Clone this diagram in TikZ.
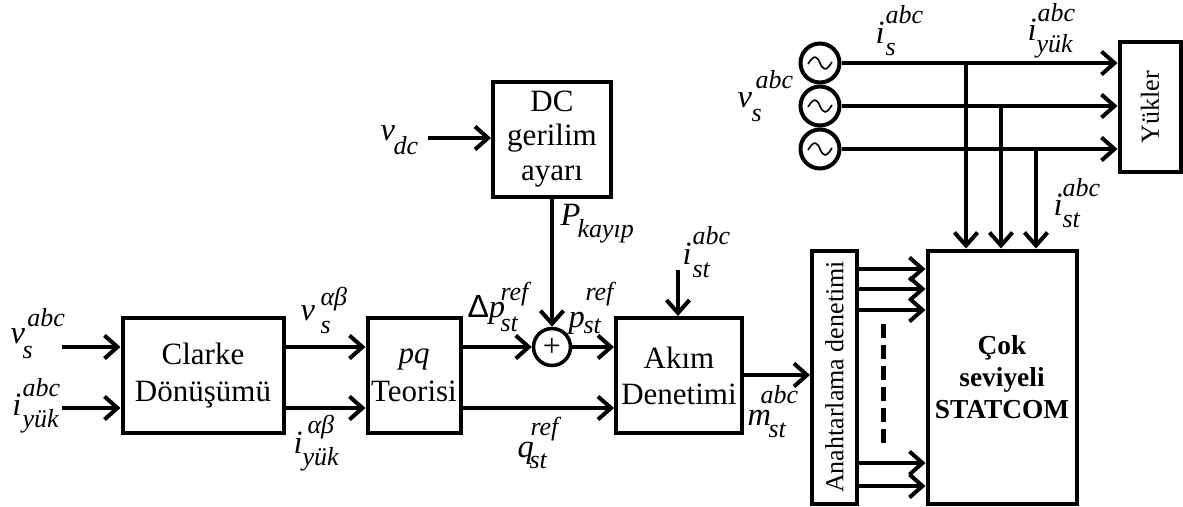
\documentclass[tikz,border=0pt]{standalone}
\usepackage{fontspec}
\setmainfont{Liberation Serif}
\newfontfamily\deltafont{Liberation Sans}
\usetikzlibrary{arrows.meta}
\newcommand\bfnt{\fontsize{31}{36}\selectfont}
\newcommand\lfnt{\fontsize{32.5}{36}\selectfont}
\newcommand\sfnt{\fontsize{26}{28}\selectfont}
% base, sup, sup dx, sup raise, sub, sub dx, sub drop
\newcommand\stk[7]{\mbox{\rlap{\lfnt\itshape #1}\rlap{\hspace{#3pt}\raisebox{#4pt}{\sfnt\itshape #2}}\rlap{\hspace{#6pt}\raisebox{-#7pt}{\sfnt\itshape #5}}}}
\tikzset{
  x=1pt,y=-1pt,
  block/.style={draw=black,line width=4pt,fill=white,align=center,inner sep=0pt,font=\bfnt},
  srcnode/.style={draw=black,line width=4pt,circle,minimum size=39pt,inner sep=0pt,fill=white},
  sumnode/.style={draw=black,line width=3.5pt,circle,minimum size=37pt,inner sep=0pt,fill=white},
  mlabel/.style={anchor=base west,inner sep=0pt,outer sep=0pt},
  conn/.style={line width=4pt,-{Straight Barb[length=13pt,width=23pt,line width=4pt]}},
}
\newcommand\wave{\tikz[x=1pt,y=1pt,baseline=-3pt]\draw[line width=1.6pt] (-12,-1) .. controls (-6,9) and (-3,7) .. (0,0) .. controls (3,-7) and (6,-9) .. (12,1);}
\begin{document}
\begin{tikzpicture}
\useasboundingbox (0,0) rectangle (1183,506);
% blocks
\node[block,minimum width=161pt,minimum height=115pt] (clarke) at (203,375.5) {Clarke\\[1pt]Dönüşümü};
\node[block,minimum width=93pt,minimum height=115pt] (pq) at (414,375.5) {\itshape pq\\[2pt]Teorisi};
\node[block,minimum width=126pt,minimum height=115pt] (akim) at (679,375.5) {Akım\\Denetimi};
\node[block,minimum width=118pt,minimum height=115pt] (dc) at (552,139) {DC\\[-2pt]gerilim\\[-1pt]ayarı};
\node[block,minimum width=253pt,minimum height=45pt,rotate=90,font=\fontsize{26}{30}\selectfont] (anah) at (834.5,377) {Anahtarlama denetimi};
\node[block,minimum width=149pt,minimum height=253pt,font=\fontsize{27.4}{32}\selectfont\bfseries] (cok) at (1002,377) {Çok\\seviyeli\\STATCOM};
\node[block,minimum width=130pt,minimum height=61pt,rotate=90,font=\fontsize{26}{30}\selectfont] (yuk) at (1150,107) {Yükler};
% sources and summer
\node[srcnode] (s1) at (820,63) {\wave};
\node[srcnode] (s2) at (820,106) {\wave};
\node[srcnode] (s3) at (820,149) {\wave};
\node[sumnode,font=\fontsize{32}{32}\selectfont] (sum) at (552,347) {+};
% free ends
\coordinate (vin) at (62,347);
\coordinate (iin) at (62,408);
\coordinate (vdcin) at (428,138);
\coordinate (istin) at (678,270);
\coordinate (ak) at (0,375);
\coordinate (j1) at (966,63);
\coordinate (j2) at (1001,106);
\coordinate (j3) at (1036,149);
\coordinate (g1) at (858,269);
\coordinate (g2) at (858,289);
\coordinate (g3) at (858,310);
\coordinate (g4) at (858,463);
\coordinate (g5) at (858,486);
\coordinate (d1) at (883,324);
\coordinate (d2) at (883,444);
% connectors
\draw[conn] (vin) -- (clarke.west |- vin);
\draw[conn] (iin) -- (clarke.west |- iin);
\draw[conn] (clarke.east |- vin) -- (pq.west |- vin);
\draw[conn] (clarke.east |- iin) -- (pq.west |- iin);
\draw[conn] (pq.east |- sum) -- (sum.west);
\draw[conn] (sum.east) -- (akim.west |- sum);
\draw[conn] (pq.east |- iin) -- (akim.west |- iin);
\draw[conn] (dc.south -| sum) -- (sum.north);
\draw[conn] (vdcin) -- (dc.west |- vdcin);
\draw[conn] (istin) -- (akim.north -| istin);
\draw[conn] (akim.east |- ak) -- (anah.north |- ak);
\draw[conn] (s1.east) -- (yuk.north |- s1);
\draw[conn] (s2.east) -- (yuk.north |- s2);
\draw[conn] (s3.east) -- (yuk.north |- s3);
\draw[conn] (j1) -- (cok.north -| j1);
\draw[conn] (j2) -- (cok.north -| j2);
\draw[conn] (j3) -- (cok.north -| j3);
\foreach \g in {g1,g2,g3,g4,g5} \draw[conn] (\g) -- (cok.west |- \g);
\draw[line width=5pt,dash pattern=on 14pt off 7pt] (d1) -- (d2);
% labels
\node[mlabel] (l1) at (10,343) {\stk{v}{abc}{17}{17}{s}{12}{15}};
\node[mlabel] (l2) at (12,415) {\stk{i}{abc}{10}{19}{yük}{10}{12}};
\node[mlabel] (l3) at (300,320) {\stk{v}{αβ}{20}{15}{s}{20}{13}};
\node[mlabel] (l4) at (293,453) {\stk{i}{αβ}{14}{20}{yük}{9}{12}};
\node[mlabel] (l5) at (467,317) {\stk{{\fontsize{32}{36}\deltafont\upshape Δ}p}{ref}{33}{17}{st}{33}{14}};
\node[mlabel] (l6) at (568,327) {\stk{p}{ref}{17}{27}{st}{15}{6}};
\node[mlabel] (l7) at (517,457) {\stk{q}{ref}{13}{22}{st}{12}{11}};
\node[mlabel] (l8) at (560,225) {\stk{P}{}{0}{0}{kayıp}{17}{12}};
\node[mlabel] (l9) at (682,264) {\stk{i}{abc}{10}{20}{st}{10}{13}};
\node[mlabel] (l10) at (747,425) {\stk{m}{abc}{13}{22}{st}{21}{12}};
\node[mlabel] (l11) at (380,140) {\stk{v}{}{0}{0}{dc}{13}{14}};
\node[mlabel] (l12) at (875,43) {\stk{i}{abc}{10}{20}{s}{10}{12}};
\node[mlabel] (l13) at (1027,40) {\stk{i}{abc}{10}{19}{yük}{9}{12}};
\node[mlabel] (l14) at (737,107) {\stk{v}{abc}{18}{19}{s}{14}{14}};
\node[mlabel] (l15) at (1053,215) {\stk{i}{abc}{9}{19}{st}{9}{12}};
\end{tikzpicture}
\end{document}
